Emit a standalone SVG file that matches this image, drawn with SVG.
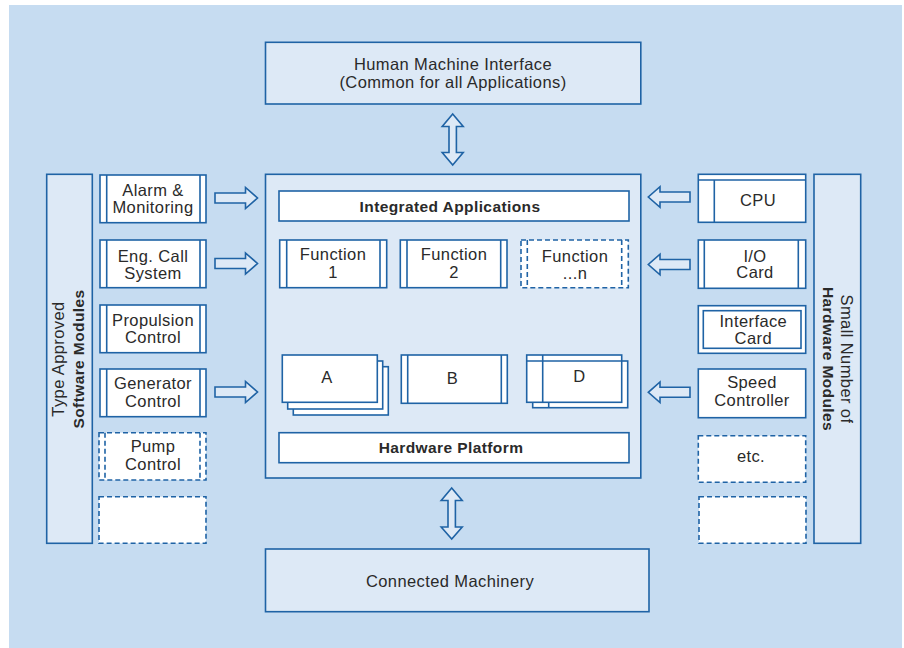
<svg xmlns="http://www.w3.org/2000/svg" width="904" height="648" viewBox="0 0 904 648">
<style>
.bg{fill:#c6dcf1}
.pane{fill:#dde9f6;stroke:#1f63a5;stroke-width:1.6}
.box{fill:#ffffff;stroke:#1f63a5;stroke-width:1.6}
.dash{fill:#ffffff;stroke:#1f63a5;stroke-width:1.6;stroke-dasharray:5 3}
.ln{fill:none;stroke:#1f63a5;stroke-width:1.6}
.dln{fill:none;stroke:#1f63a5;stroke-width:1.6;stroke-dasharray:5 3}
.arr{fill:#dde9f6;stroke:#1f63a5;stroke-width:1.6;stroke-linejoin:miter}
text{font-family:"Liberation Sans",Arial,sans-serif;font-size:16.5px;fill:#2a2a2a;text-anchor:middle;letter-spacing:0.4px}
.b{font-weight:bold;font-size:15.5px}
</style>
<rect class="bg" x="9" y="5" width="893" height="643"/>

<g id="connectors">
<path class="arr" d="M452.7,114 L463.2,126.5 H456.4 V152.5 H463.2 L452.7,165 L442.2,152.5 H449 V126.5 H442.2 Z"/>
<path class="arr" d="M451.7,488 L462.2,500.5 H455.4 V527 H462.2 L451.7,539 L441.2,527 H448 V500.5 H441.2 Z"/>
<path class="arr" d="M215,193 H245.5 V187.5 L257.5,198 L245.5,208.5 V203 H215 Z"/>
<path class="arr" d="M215,258.5 H245.5 V253 L257.5,263.5 L245.5,274 V268.5 H215 Z"/>
<path class="arr" d="M215,387 H245.5 V381.5 L257.5,392 L245.5,402.5 V397 H215 Z"/>
<path class="arr" d="M690,192 H660 V186.7 L648.3,197 L660,207.3 V202 H690 Z"/>
<path class="arr" d="M690,259.5 H660 V254.2 L648.3,264.5 L660,274.8 V269.5 H690 Z"/>
<path class="arr" d="M690,387.3 H660 V382 L648.3,392.3 L660,402.6 V397.3 H690 Z"/>
</g>

<g id="hmi">
<rect class="pane" x="265.5" y="42.3" width="375.3" height="61.7"/>
<text x="453" y="70">Human Machine Interface</text>
<text x="453" y="88">(Common for all Applications)</text>
</g>

<g id="machinery">
<rect class="pane" x="265.5" y="549" width="383.5" height="62.7"/>
<text x="450" y="587">Connected Machinery</text>
</g>

<g id="platform">
<rect class="pane" x="265.5" y="174.3" width="375.3" height="303.7"/>
</g>
<g id="integrated-apps">
<rect class="box" x="279" y="191" width="350" height="30"/>
<text class="b" x="450" y="211.5">Integrated Applications</text>
</g>
<g id="function1">
<rect class="box" x="279.7" y="240" width="107" height="47.7"/>
<path class="ln" d="M286.7,240 V287.7 M380,240 V287.7"/>
<text x="333" y="260">Function</text>
<text x="333" y="278.3">1</text>
</g>
<g id="function2">
<rect class="box" x="400.3" y="240" width="106.7" height="47.7"/>
<path class="ln" d="M407,240 V287.7 M500.7,240 V287.7"/>
<text x="454" y="260">Function</text>
<text x="454" y="278.3">2</text>
</g>
<g id="functionn">
<rect class="dash" x="521" y="240" width="107.3" height="47.7"/>
<path class="dln" d="M527.3,240 V287.7 M621.7,240 V287.7"/>
<text x="575" y="261.7">Function</text>
<text x="575" y="279.3">...n</text>
</g>
<g id="module-a">
<rect class="box" x="293.3" y="366.7" width="95" height="48.3"/>
<rect class="box" x="287.7" y="361" width="95" height="48"/>
<rect class="box" x="282.3" y="355" width="95" height="47.3"/>
<text x="327" y="383.3">A</text>
</g>
<g id="module-b">
<rect class="box" x="401.3" y="355" width="106" height="48.3"/>
<path class="ln" d="M407.7,355 V403.3 M501.3,355 V403.3"/>
<text x="452.5" y="384.3">B</text>
</g>
<g id="module-d">
<rect class="box" x="532.7" y="361" width="95" height="46.7"/>
<path class="ln" d="M548.7,361 V407.7"/>
<rect class="box" x="526.7" y="355" width="95" height="47.3"/>
<path class="ln" d="M542.7,355 V402.3 M526.7,361 H621.7"/>
<text x="579.5" y="382.3">D</text>
</g>
<g id="hardware-platform">
<rect class="box" x="279" y="432.7" width="350" height="30"/>
<text class="b" x="451" y="453">Hardware Platform</text>
</g>

<g id="software-modules">
<rect class="pane" x="46.7" y="174.3" width="45.6" height="369"/>
<text transform="translate(64,359) rotate(-90)">Type Approved</text>
<text class="b" transform="translate(84,359) rotate(-90)">Software Modules</text>
</g>
<g id="alarm">
<rect class="box" x="100" y="175" width="106" height="47.7"/>
<path class="ln" d="M106.7,175 V222.7 M200,175 V222.7"/>
<text x="153" y="195.7">Alarm &amp;</text>
<text x="153" y="213.3">Monitoring</text>
</g>
<g id="engcall">
<rect class="box" x="100" y="240" width="106" height="47.7"/>
<path class="ln" d="M106.7,240 V287.7 M200,240 V287.7"/>
<text x="153" y="261.7">Eng. Call</text>
<text x="153" y="279.3">System</text>
</g>
<g id="propulsion">
<rect class="box" x="100" y="305" width="106" height="47.7"/>
<path class="ln" d="M106.7,305 V352.7 M200,305 V352.7"/>
<text x="153" y="326">Propulsion</text>
<text x="153" y="343.3">Control</text>
</g>
<g id="generator">
<rect class="box" x="100" y="369" width="106" height="47.7"/>
<path class="ln" d="M106.7,369 V416.7 M200,369 V416.7"/>
<text x="153" y="389.3">Generator</text>
<text x="153" y="406.7">Control</text>
</g>
<g id="pump">
<rect class="dash" x="99" y="432.7" width="107" height="47.3"/>
<path class="dln" d="M105,432.7 V480 M200,432.7 V480"/>
<text x="153" y="451.7">Pump</text>
<text x="153" y="470">Control</text>
</g>
<g id="sw-empty">
<rect class="dash" x="99" y="496.7" width="107" height="46.6"/>
</g>

<g id="hardware-modules">
<rect class="pane" x="814" y="174.3" width="46.7" height="369"/>
<text transform="translate(841,359) rotate(90)">Small Number of</text>
<text class="b" transform="translate(822.5,359) rotate(90)">Hardware Modules</text>
</g>
<g id="cpu">
<rect class="box" x="698.3" y="174.3" width="107.4" height="48"/>
<path class="ln" d="M698.3,180 H805.7 M714.3,180 V222.3"/>
<text x="758" y="206">CPU</text>
</g>
<g id="io">
<rect class="box" x="698.3" y="240" width="107.4" height="48.3"/>
<path class="ln" d="M704.3,240 V288.3 M798.3,240 V288.3"/>
<text x="755" y="261.7">I/O</text>
<text x="755" y="278.3">Card</text>
</g>
<g id="interface">
<rect class="box" x="698.3" y="305.7" width="107.4" height="47.6"/>
<rect class="ln" x="703.3" y="310.7" width="97.7" height="37.6"/>
<text x="753.3" y="326.7">Interface</text>
<text x="753.3" y="344">Card</text>
</g>
<g id="speed">
<rect class="box" x="698.3" y="369" width="107.4" height="48.7"/>
<text x="752" y="388.3">Speed</text>
<text x="752" y="405.7">Controller</text>
</g>
<g id="etc">
<rect class="dash" x="698.3" y="435.7" width="107.4" height="46.6"/>
<text x="751" y="461.7">etc.</text>
</g>
<g id="hw-empty">
<rect class="dash" x="699" y="496.7" width="107" height="46.6"/>
</g>
</svg>
